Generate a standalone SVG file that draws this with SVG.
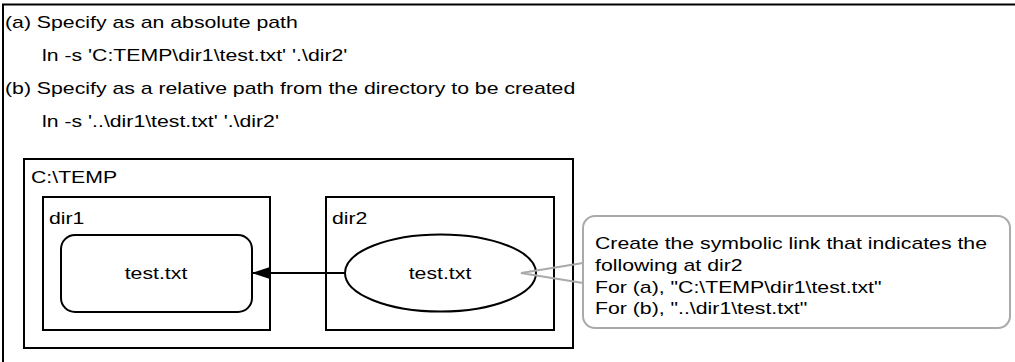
<svg xmlns="http://www.w3.org/2000/svg" width="1015" height="362" viewBox="0 0 1015 362">
<style>
text{font-family:"Liberation Sans",Arial,sans-serif;font-size:17px;fill:#000}
.box{fill:none;stroke:#000;stroke-width:2}
.mid{text-anchor:middle}
.call{fill:#fff;stroke:#aaa;stroke-width:2}
</style>
<defs>
<marker id="ah" markerWidth="18" markerHeight="12" refX="17" refY="6" orient="auto" markerUnits="userSpaceOnUse">
<path d="M0,0 L18,6 L0,12 Z" fill="#000"/>
</marker>
</defs>
<rect width="1015" height="362" fill="#fff"/>
<g id="frame">
<path d="M3,362 V4.5 H1015" fill="none" stroke="#000" stroke-width="2"/>
</g>
<g id="texts">
<text transform="translate(5,28) scale(1.25,1)">(a) Specify as an absolute path</text>
<text transform="translate(42,61) scale(1.25,1)">ln -s 'C:TEMP\dir1\test.txt' '.\dir2'</text>
<text transform="translate(5,94) scale(1.25,1)">(b) Specify as a relative path from the directory to be created</text>
<text transform="translate(42,127) scale(1.25,1)">ln -s '..\dir1\test.txt' '.\dir2'</text>
</g>
<g id="ctemp">
<rect class="box" x="24" y="159" width="549" height="189"/>
<text transform="translate(31,183) scale(1.25,1)">C:\TEMP</text>
</g>
<g id="dir1">
<rect class="box" x="43" y="197" width="227" height="133"/>
<text transform="translate(49,224) scale(1.25,1)">dir1</text>
</g>
<g id="dir2">
<rect class="box" x="326" y="197" width="228" height="133"/>
<text transform="translate(332,224) scale(1.25,1)">dir2</text>
</g>
<g id="file1">
<rect class="box" x="61" y="235" width="191" height="77" rx="14"/>
<text class="mid" transform="translate(156,279) scale(1.25,1)">test.txt</text>
</g>
<g id="file2">
<ellipse class="box" cx="440.5" cy="273" rx="95.5" ry="38.5"/>
<text class="mid" transform="translate(440,279) scale(1.25,1)">test.txt</text>
</g>
<g id="connectors">
<line x1="345" y1="273" x2="253" y2="273" stroke="#000" stroke-width="2" marker-end="url(#ah)"/>
</g>
<g id="callout">
<rect class="call" x="583" y="216" width="427" height="112" rx="12"/>
<path d="M583,263 L521,273 L583,283" fill="none" stroke="#aaa" stroke-width="2"/>
<text transform="translate(595,249) scale(1.25,1)">Create the symbolic link that indicates the</text>
<text transform="translate(595,271) scale(1.25,1)">following at dir2</text>
<text transform="translate(595,293) scale(1.25,1)">For (a), "C:\TEMP\dir1\test.txt"</text>
<text transform="translate(595,314) scale(1.25,1)">For (b), "..\dir1\test.txt"</text>
</g>
</svg>
